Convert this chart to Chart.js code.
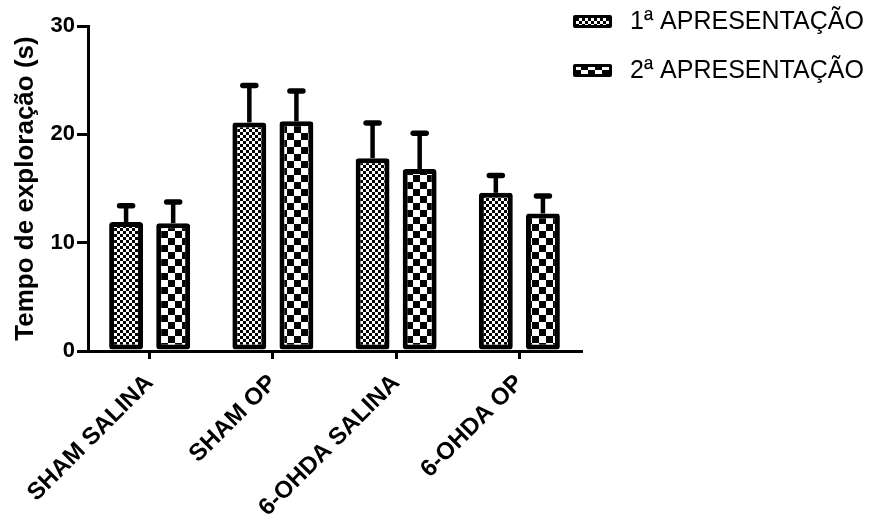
<!DOCTYPE html>
<html>
<head>
<meta charset="utf-8">
<script src="https://cdn.jsdelivr.net/npm/chart.js@4/dist/chart.umd.min.js"></script>
<style>
html,body{margin:0;padding:0;background:#fff;}
#wrap{width:881px;height:515px;position:relative;}
</style>
</head>
<body>
<div id="wrap"><canvas id="c" width="881" height="515"></canvas></div>
<script>
const categories = ["SHAM SALINA", "SHAM OP", "6-OHDA SALINA", "6-OHDA OP"];
const seriesNames = ["1ª APRESENTAÇÃO", "2ª APRESENTAÇÃO"];
const apresentacao1 = [11.9, 21.1, 17.8, 14.6];
const apresentacao2 = [11.8, 21.2, 16.8, 12.7];
const erro1 = [1.5, 3.4, 3.25, 1.6];
const erro2 = [1.95, 2.8, 3.3, 1.6];
const yTicks = [0, 10, 20, 30];
const yTitle = "Tempo de exploração (s)";

const FONT = "'Liberation Sans', Arial, sans-serif";

function makePattern(cell) {
  const p = document.createElement('canvas');
  p.width = cell * 2; p.height = cell * 2;
  const g = p.getContext('2d');
  g.fillStyle = '#fff'; g.fillRect(0, 0, p.width, p.height);
  g.fillStyle = '#000';
  g.fillRect(0, 0, cell, cell);
  g.fillRect(cell, cell, cell, cell);
  return document.getElementById('c').getContext('2d').createPattern(p, 'repeat');
}
const pat1 = makePattern(3);
const pat2 = makePattern(7);
const patterns = [pat1, pat2];
const errors = [erro1, erro2];

const errorBars = {
  id: 'errorBars',
  afterDatasetsDraw(chart) {
    const ctx = chart.ctx;
    const y = chart.scales.y;
    chart.data.datasets.forEach((ds, di) => {
      const meta = chart.getDatasetMeta(di);
      meta.data.forEach((bar, i) => {
        const top = y.getPixelForValue(ds.data[i] + errors[di][i]);
        const base = bar.y;
        ctx.save();
        ctx.strokeStyle = '#000';
        ctx.lineWidth = 4.5;
        ctx.lineCap = 'butt';
        ctx.beginPath();
        ctx.moveTo(bar.x, base);
        ctx.lineTo(bar.x, top);
        ctx.stroke();
        ctx.lineCap = 'round';
        ctx.lineWidth = 5.5;
        ctx.beginPath();
        ctx.moveTo(bar.x - 6.5, top);
        ctx.lineTo(bar.x + 6.5, top);
        ctx.stroke();
        ctx.restore();
      });
    });
  }
};

const customLegend = {
  id: 'customLegend',
  afterDraw(chart) {
    const ctx = chart.ctx;
    seriesNames.forEach((name, i) => {
      const bx = 573, by = 15 + 49 * i, bw = 39, bh = 13;
      ctx.save();
      ctx.beginPath();
      ctx.roundRect(bx, by, bw, bh, 2);
      ctx.fillStyle = '#000';
      ctx.fill();
      ctx.fillStyle = patterns[i];
      ctx.fillRect(bx + 3, by + 3, bw - 6, bh - 6);
      ctx.fillStyle = '#000';
      ctx.font = "25px " + FONT;
      ctx.textBaseline = 'middle';
      ctx.textAlign = 'left';
      ctx.fillText(name, 630, by + bh / 2 + 1);
      ctx.restore();
    });
  }
};

new Chart(document.getElementById('c'), {
  type: 'bar',
  data: {
    labels: categories,
    datasets: [
      { label: seriesNames[0], data: apresentacao1, backgroundColor: pat1, borderColor: '#000', borderWidth: 5, borderRadius: 3, borderSkipped: false },
      { label: seriesNames[1], data: apresentacao2, backgroundColor: pat2, borderColor: '#000', borderWidth: 5, borderRadius: 3, borderSkipped: false }
    ]
  },
  options: {
    responsive: false,
    animation: false,
    devicePixelRatio: 1,
    layout: { padding: { left: 0, top: 26, right: 300, bottom: 0 } },
    datasets: { bar: { categoryPercentage: 0.764, barPercentage: 0.72 } },
    plugins: { legend: { display: false }, tooltip: { enabled: false } },
    scales: {
      x: {
        offset: true,
        grid: { display: true, drawOnChartArea: false, offset: false, color: '#000', lineWidth: 3, tickLength: 8 },
        border: { display: true, color: '#000', width: 3 },
        ticks: { color: '#000', font: { family: FONT, size: 24, weight: 'bold' }, minRotation: 45, maxRotation: 45, padding: 10 },
        afterFit(s) { s.height = 164; }
      },
      y: {
        min: 0, max: 30,
        afterBuildTicks(s) { s.ticks = yTicks.map(v => ({ value: v })); },
        grid: { display: true, drawOnChartArea: false, color: '#000', lineWidth: 3, tickLength: 11 },
        border: { display: true, color: '#000', width: 3 },
        ticks: { color: '#000', font: { family: FONT, size: 22, weight: 'bold' }, padding: 2 },
        title: { display: true, text: yTitle, color: '#000', font: { family: FONT, size: 26, weight: 'bold' }, padding: { top: 10, bottom: 0 } },
        afterFit(s) { s.width = 88; }
      }
    }
  },
  plugins: [errorBars, customLegend]
});
</script>
</body>
</html>
